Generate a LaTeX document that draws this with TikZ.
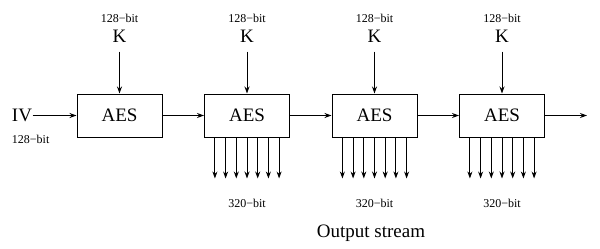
\documentclass[tikz,border=0pt]{standalone}
\usepackage{fontspec}
\setmainfont{Liberation Serif}
\usetikzlibrary{arrows.meta, positioning}

\begin{document}
\begin{tikzpicture}[
    x=1pt, y=-1pt, >={Stealth[length=7pt, width=5pt]},
    line width=1pt, node distance=41.5pt,
    aesbox/.style={draw, minimum width=85pt, minimum height=43pt,
                   inner sep=0pt, font=\fontsize{19}{22}\selectfont},
    biglabel/.style={inner sep=0pt, font=\fontsize{19}{22}\selectfont},
    bitlabel/.style={inner sep=0pt, font=\fontsize{12}{14}\selectfont}
  ]
  \useasboundingbox (0,0) rectangle (600,249);

  % chain of AES blocks
  \node[aesbox] (aes1) at (119.5,115.5) {AES};
  \node[aesbox, right=of aes1] (aes2) {AES};
  \node[aesbox, right=of aes2] (aes3) {AES};
  \node[aesbox, right=of aes3] (aes4) {AES};

  % IV input
  \node[biglabel, left=44pt of aes1] (iv) {IV};
  \node[bitlabel, anchor=north west] (ivbits)
    at ([yshift=-12pt]iv.south west) {128−bit};
  \draw[->] (iv.east) -- (aes1.west);

  % keys
  \foreach \i in {1,...,4} {
    \node[biglabel, above=51pt of aes\i] (key\i) {K};
    \node[bitlabel, above=6pt of key\i] (keybits\i) {128−bit};
    \draw[->, shorten <=9pt] (key\i.south) -- (aes\i.north);
  }

  % links between blocks
  \draw[->] (aes1.east) -- (aes2.west);
  \draw[->] (aes2.east) -- (aes3.west);
  \draw[->] (aes3.east) -- (aes4.west);
  \coordinate[right=42pt of aes4] (last);
  \draw[->] (aes4.east) -- (last);

  % keystream outputs
  \foreach \i in {2,3,4} {
    \foreach \k in {-3,...,3}
      \draw[->] ([xshift=\k*10.7pt]aes\i.south) -- ++(0,41);
    \node[bitlabel, below=61pt of aes\i] (outbits\i) {320−bit};
  }

  \node[biglabel] (stream) at (371,233) {Output stream};
\end{tikzpicture}
\end{document}
